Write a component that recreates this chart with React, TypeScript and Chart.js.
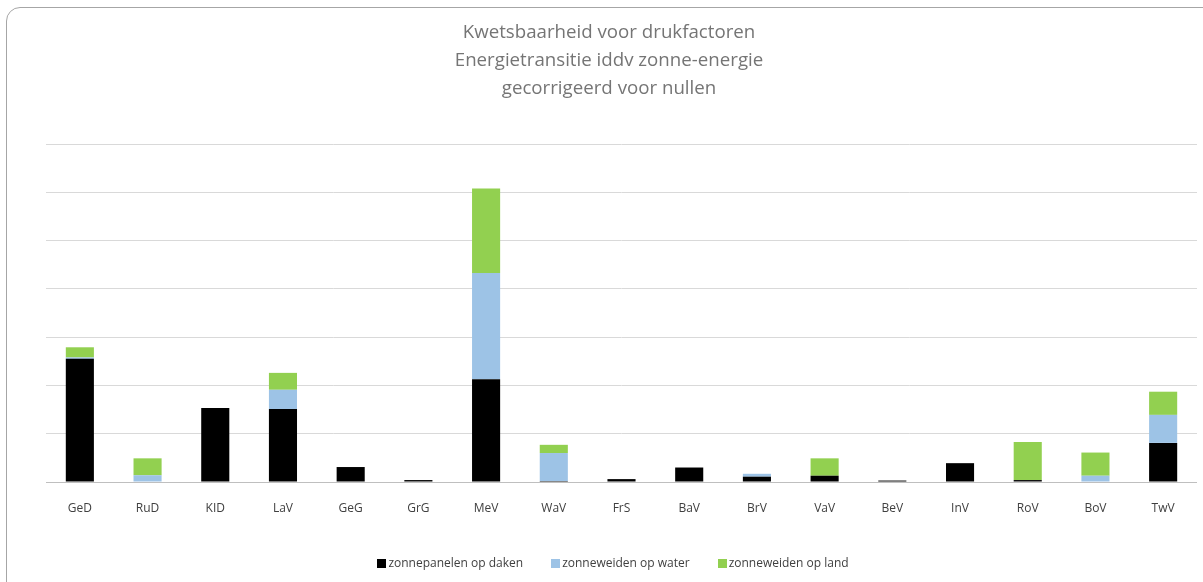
import { useEffect, useRef } from "react";
import { Chart, registerables } from "chart.js";

Chart.register(...registerables);

const CATEGORIES = ["GeD", "RuD", "KID", "LaV", "GeG", "GrG", "MeV", "WaV", "FrS", "BaV", "BrV", "VaV", "BeV", "InV", "RoV", "BoV", "TwV"];
const DAKEN = [2.55, 0, 1.53, 1.51, 0.31, 0.04, 2.13, 0.02, 0.06, 0.3, 0.11, 0.13, 0.03, 0.39, 0.04, 0, 0.81];
const WATER = [0.03, 0.14, 0, 0.4, 0, 0, 2.2, 0.58, 0, 0, 0.06, 0, 0, 0, 0, 0.13, 0.58];
const LAND = [0.21, 0.35, 0, 0.35, 0, 0, 1.75, 0.17, 0, 0, 0, 0.36, 0, 0, 0.79, 0.48, 0.48];

const SERIES = [
  { label: "zonnepanelen op daken", data: DAKEN, color: "#000000" },
  { label: "zonneweiden op water", data: WATER, color: "#9DC3E6" },
  { label: "zonneweiden op land", data: LAND, color: "#92D050" },
];

const TITLE = ["Kwetsbaarheid voor drukfactoren", "Energietransitie iddv zonne-energie", "gecorrigeerd voor nullen"];
const FONT = "'Open Sans', 'Noto Sans', sans-serif";

export default function App() {
  const ref = useRef<HTMLCanvasElement | null>(null);

  useEffect(() => {
    if (!ref.current) return;
    const chart = new Chart(ref.current, {
      type: "bar",
      data: {
        labels: CATEGORIES,
        datasets: SERIES.map((s) => ({
          label: s.label,
          data: s.data,
          backgroundColor: s.color,
          borderWidth: 0,
          categoryPercentage: 1,
          barPercentage: 0.415,
        })),
      },
      options: {
        animation: false,
        responsive: true,
        maintainAspectRatio: false,
        layout: { padding: { top: 0, bottom: 70, left: 0, right: 0 } },
        plugins: {
          legend: { display: false },
          tooltip: { enabled: false },
          title: {
            display: true,
            text: TITLE,
            color: "#757575",
            font: { family: FONT, size: 18.7, weight: "normal", lineHeight: 28 / 18.7 },
            padding: { top: 19, bottom: 41 },
          },
        },
        scales: {
          x: {
            stacked: true,
            grid: { display: false },
            border: { display: true, color: "#BFBFBF" },
            ticks: { color: "#404040", font: { family: FONT, size: 12 }, padding: 11, maxRotation: 0 },
            afterFit: (scale) => {
              scale.height = 30;
            },
          },
          y: {
            stacked: true,
            min: 0,
            max: 7,
            grid: { color: "#D9D9D9", drawTicks: false },
            border: { display: false },
            ticks: { display: false, stepSize: 1 },
            afterFit: (scale) => {
              scale.width = 25;
            },
          },
        },
      },
    });
    return () => chart.destroy();
  }, []);

  return (
    <div style={{ position: "fixed", left: 0, top: 0, width: 1203, height: 582, background: "#fff", overflow: "hidden" }}>
      <div
        style={{
          position: "absolute",
          left: 6,
          top: 7,
          width: 1220,
          height: 600,
          border: "1px solid #A6A6A6",
          borderRadius: 14,
          boxSizing: "border-box",
        }}
      />
      <div style={{ position: "absolute", left: 21, top: 0, width: 1176, height: 582 }}>
        <canvas ref={ref} aria-label="Kwetsbaarheid voor drukfactoren" />
      </div>
      <div
        style={{
          position: "absolute",
          left: 0,
          top: 555,
          width: 1226,
          display: "flex",
          justifyContent: "center",
          gap: 28,
          fontFamily: FONT,
          fontSize: 12,
          color: "#404040",
          lineHeight: "16px",
        }}
      >
        {SERIES.map((s) => (
          <span key={s.label} style={{ display: "flex", alignItems: "center", gap: 2 }}>
            <span style={{ display: "inline-block", width: 9, height: 9, background: s.color }} />
            {s.label}
          </span>
        ))}
      </div>
    </div>
  );
}
